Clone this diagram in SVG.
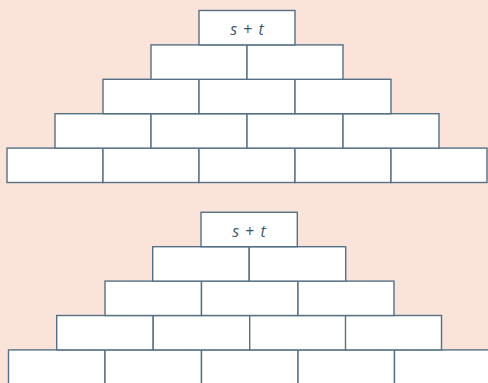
<svg xmlns="http://www.w3.org/2000/svg" width="488" height="383" viewBox="0 0 488 383">
<style>
.b{fill:#ffffff;stroke:#557085;stroke-width:1.4}
.t{font-family:"Open Sans","Liberation Sans",sans-serif;font-size:16px;fill:#3e566b;text-anchor:middle;word-spacing:2px}
.i{font-style:italic}
</style>
<rect x="0" y="0" width="488" height="383" fill="#fae3d8"/>
<g id="pyramid1">
<g id="p1r5">
<rect class="b" x="7" y="148.1" width="96" height="34.4"/>
<rect class="b" x="103" y="148.1" width="96" height="34.4"/>
<rect class="b" x="199" y="148.1" width="96" height="34.4"/>
<rect class="b" x="295" y="148.1" width="96" height="34.4"/>
<rect class="b" x="391" y="148.1" width="96" height="34.4"/>
</g>
<g id="p1r4">
<rect class="b" x="55" y="113.7" width="96" height="34.4"/>
<rect class="b" x="151" y="113.7" width="96" height="34.4"/>
<rect class="b" x="247" y="113.7" width="96" height="34.4"/>
<rect class="b" x="343" y="113.7" width="96" height="34.4"/>
</g>
<g id="p1r3">
<rect class="b" x="103" y="79.3" width="96" height="34.4"/>
<rect class="b" x="199" y="79.3" width="96" height="34.4"/>
<rect class="b" x="295" y="79.3" width="96" height="34.4"/>
</g>
<g id="p1r2">
<rect class="b" x="151" y="44.9" width="96" height="34.4"/>
<rect class="b" x="247" y="44.9" width="96" height="34.4"/>
</g>
<g id="p1r1">
<rect class="b" x="199" y="10.5" width="96" height="34.4"/>
<text class="t" x="247" y="34.5"><tspan class="i">s</tspan> + <tspan class="i">t</tspan></text>
</g>
</g>
<g id="pyramid2">
<g id="p2r5">
<rect class="b" x="8.5" y="349.9" width="96.5" height="34.4"/>
<rect class="b" x="105" y="349.9" width="96.5" height="34.4"/>
<rect class="b" x="201.5" y="349.9" width="96.5" height="34.4"/>
<rect class="b" x="298" y="349.9" width="96.5" height="34.4"/>
<rect class="b" x="394.5" y="349.9" width="96.5" height="34.4"/>
</g>
<g id="p2r4">
<rect class="b" x="56.7" y="315.5" width="96.5" height="34.4"/>
<rect class="b" x="153.2" y="315.5" width="96.5" height="34.4"/>
<rect class="b" x="249.7" y="315.5" width="96" height="34.4"/>
<rect class="b" x="345.5" y="315.5" width="96" height="34.4"/>
</g>
<g id="p2r3">
<rect class="b" x="105" y="281.1" width="96.5" height="34.4"/>
<rect class="b" x="201.5" y="281.1" width="96.5" height="34.4"/>
<rect class="b" x="298" y="281.1" width="96" height="34.4"/>
</g>
<g id="p2r2">
<rect class="b" x="152.7" y="246.7" width="96.5" height="34.4"/>
<rect class="b" x="249.2" y="246.7" width="96.5" height="34.4"/>
</g>
<g id="p2r1">
<rect class="b" x="201" y="212.3" width="96.3" height="34.4"/>
<text class="t" x="249" y="236.5"><tspan class="i">s</tspan> + <tspan class="i">t</tspan></text>
</g>
</g>
<g id="connectors"/>
</svg>
